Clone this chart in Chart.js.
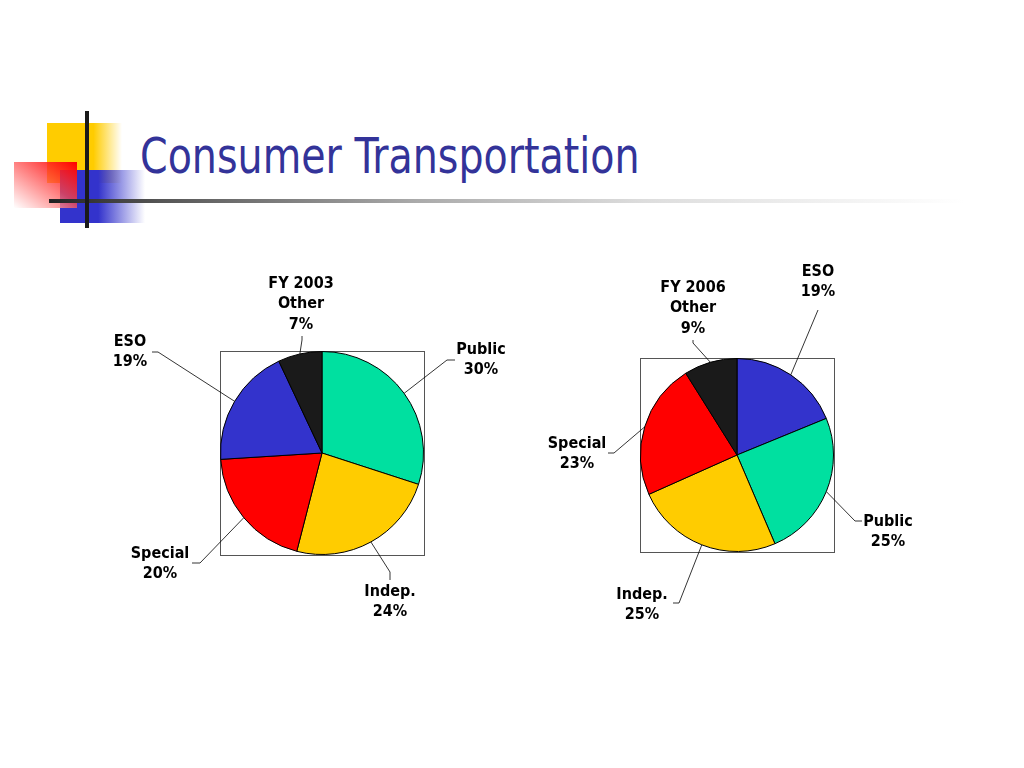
<!DOCTYPE html>
<html lang="en">
<head>
    <meta charset="UTF-8">
    <title>Consumer Transportation</title>
    <script src="https://cdn.jsdelivr.net/npm/chart.js"></script>
    <style>
        body {
            margin: 0;
            width: 1024px;
            height: 768px;
            background: #fff;
            position: relative;
            overflow: hidden;
            font-family: 'DejaVu Sans Condensed', 'DejaVu Sans', sans-serif;
        }
        .deco { position: absolute; }
        .title {
            position: absolute;
            left: 140px;
            top: 126px;
            font-size: 44px;
            color: #333399;
            white-space: nowrap;
            transform-origin: left top;
            transform: scaleY(1.15);
        }
        .pie {
            position: absolute;
            width: 460px;
            height: 400px;
        }
    </style>
</head>
<body>
    <!-- Slide decoration -->
    <div class="deco" style="left:47px;top:123px;width:75px;height:60px;background:linear-gradient(to right,#ffcc00 0%,#ffcc00 62%,rgba(255,204,0,0) 100%)"></div>
    <div class="deco" style="left:60px;top:170px;width:85px;height:53px;background:linear-gradient(to right,#3333cc 0%,#3333cc 45%,rgba(51,51,204,0) 100%)"></div>
    <div class="deco" style="left:14px;top:162px;width:63px;height:46px;background:linear-gradient(to bottom left,#ff0000 0%,rgba(255,70,70,0.75) 45%,rgba(255,255,255,0.9) 100%)"></div>
    <div class="deco" style="left:49px;top:199px;width:915px;height:4px;background:linear-gradient(to right,#222 0%,#555 12%,#aaa 40%,#ddd 65%,rgba(255,255,255,0) 100%)"></div>
    <div class="deco" style="left:85px;top:111px;width:4px;height:117px;background:#1a1a1a"></div>

    <div class="title">Consumer Transportation</div>

    <canvas id="pie2003" class="pie" width="460" height="400" style="left:92px;top:253px"></canvas>
    <canvas id="pie2006" class="pie" width="460" height="400" style="left:507px;top:255px"></canvas>

    <script>
        // Data
        const labels2003 = ['Public', 'Indep.', 'Special', 'ESO', 'Other'];
        const values2003 = [30, 24, 20, 19, 7];
        const colors2003 = ['#00e0a0', '#ffcc00', '#ff0000', '#3333cc', '#1a1a1a'];

        const labels2006 = ['ESO', 'Public', 'Indep.', 'Special', 'Other'];
        const values2006 = [19, 25, 25, 23, 9];
        const colors2006 = ['#3333cc', '#00e0a0', '#ffcc00', '#ff0000', '#1a1a1a'];

        // Label layout, offsets from pie centre: elbow, tick end, text centre
        const layout2003 = [
            { elbow: [125, -93], tick: [133, -93], text: [159, -93] },
            { elbow: [68, 119], tick: [68, 127], text: [68, 149] },
            { elbow: [-122, 110], tick: [-130, 110], text: [-162, 111] },
            { elbow: [-164, -101], tick: [-170, -101], text: [-192, -101] },
            { elbow: [-20, -113], tick: [-20, -117], text: [-21, -149] }
        ];
        const layout2006 = [
            { elbow: [81, -145], tick: [81, -145], text: [81, -173] },
            { elbow: [118, 66], tick: [125, 66], text: [151, 77] },
            { elbow: [-58, 148], tick: [-64, 148], text: [-95, 150] },
            { elbow: [-123, -2], tick: [-129, -2], text: [-160, -1] },
            { elbow: [-44, -112], tick: [-44, -115], text: [-44, -147] }
        ];

        const labelPlugin = {
            id: 'leaderLabels',
            beforeDatasetsDraw(chart) {
                // box around the pie
                const arc = chart.getDatasetMeta(0).data[0];
                const ctx = chart.ctx;
                const r = arc.outerRadius;
                ctx.save();
                ctx.strokeStyle = '#555';
                ctx.lineWidth = 1;
                ctx.strokeRect(Math.round(arc.x - r) - 0.5, Math.round(arc.y - r) - 0.5, Math.round(2 * r) + 1, Math.round(2 * r) + 1);
                ctx.restore();
            },
            afterDatasetsDraw(chart, args, opts) {
                const ctx = chart.ctx;
                const meta = chart.getDatasetMeta(0);
                const values = chart.data.datasets[0].data;
                ctx.save();
                ctx.font = 'bold 16px "DejaVu Sans Condensed", "DejaVu Sans", sans-serif';
                ctx.fillStyle = '#000';
                ctx.textAlign = 'center';
                ctx.textBaseline = 'middle';
                meta.data.forEach((el, i) => {
                    const mid = (el.startAngle + el.endAngle) / 2;
                    const cx = el.x, cy = el.y;
                    const sx = cx + Math.cos(mid) * el.outerRadius;
                    const sy = cy + Math.sin(mid) * el.outerRadius;
                    const L = opts.layout[i];
                    ctx.strokeStyle = '#000';
                    ctx.lineWidth = 0.8;
                    ctx.beginPath();
                    ctx.moveTo(sx, sy);
                    ctx.lineTo(cx + L.elbow[0], cy + L.elbow[1]);
                    ctx.lineTo(cx + L.tick[0], cy + L.tick[1]);
                    ctx.stroke();
                    let lines = [chart.data.labels[i], values[i] + '%'];
                    if (i === values.length - 1) lines = [opts.year, ...lines];
                    const lh = 20.5;
                    const y0 = cy + L.text[1] - (lines.length - 1) * lh / 2;
                    lines.forEach((t, k) => ctx.fillText(t, cx + L.text[0], y0 + k * lh));
                });
                ctx.restore();
            }
        };

        function makePie(id, labels, values, colors, layout, year, pad) {
            return new Chart(document.getElementById(id), {
                type: 'pie',
                data: {
                    labels: labels,
                    datasets: [{
                        data: values,
                        backgroundColor: colors,
                        borderColor: '#000',
                        borderWidth: 1
                    }]
                },
                options: {
                    responsive: false,
                    animation: false,
                    layout: { padding: pad },
                    plugins: {
                        legend: { display: false },
                        tooltip: { enabled: false },
                        leaderLabels: { layout: layout, year: year }
                    }
                },
                plugins: [labelPlugin]
            });
        }

        makePie('pie2003', labels2003, values2003, colors2003, layout2003, 'FY 2003',
            { left: 128, right: 128, top: 98, bottom: 98 });
        makePie('pie2006', labels2006, values2006, colors2006, layout2006, 'FY 2006',
            { left: 133, right: 133, top: 103, bottom: 103 });
    </script>
</body>
</html>
